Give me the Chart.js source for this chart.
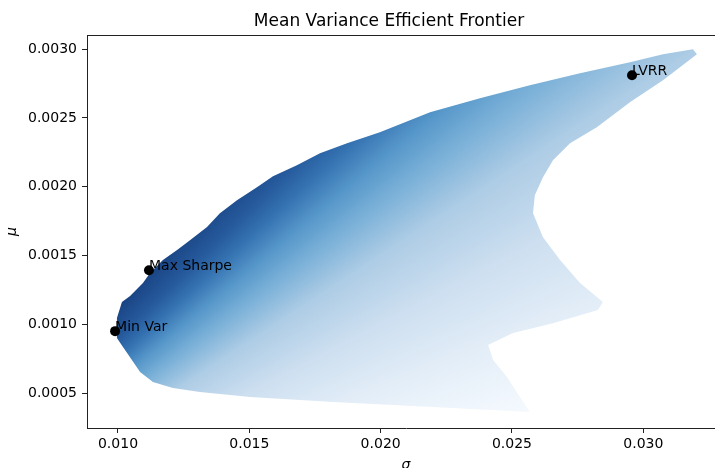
<!DOCTYPE html>
<html>
<head>
<meta charset="utf-8">
<script src="https://cdn.jsdelivr.net/npm/chart.js@4.4.0/dist/chart.umd.min.js"></script>
<style>
  html, body { margin: 0; padding: 0; overflow: hidden; background: #fff; }
  #holder { width: 715px; height: 468px; overflow: hidden; }
</style>
</head>
<body>
<div id="holder"><canvas id="frontier" width="730" height="468"></canvas></div>
<script>
// outline of the simulated portfolio cloud (clockwise from min var)
const cloudSigma = [0.00996, 0.00996, 0.01015, 0.01046, 0.01095, 0.01122, 0.01171, 0.01225, 0.01274, 0.01339,
  0.01388, 0.01453, 0.01529, 0.01590, 0.01681, 0.01769, 0.01872, 0.01997, 0.02188, 0.02378,
  0.02568, 0.02759, 0.02949, 0.03075, 0.03189, 0.03204, 0.03075, 0.02949, 0.02823, 0.02721,
  0.02656, 0.02618, 0.02587, 0.02580, 0.02618, 0.02683, 0.02759, 0.02846, 0.02827, 0.02656,
  0.02504, 0.02409, 0.02428, 0.02481, 0.02530, 0.02568, 0.02199, 0.01819, 0.01503, 0.01312,
  0.01209, 0.01133, 0.01084, 0.01053, 0.01019];
const cloudMu = [0.000901, 0.001046, 0.001162, 0.001206, 0.001300, 0.001373, 0.001467, 0.001540, 0.001612, 0.001707,
  0.001808, 0.001903, 0.001997, 0.002077, 0.002157, 0.002244, 0.002317, 0.002396, 0.002542, 0.002643,
  0.002738, 0.002825, 0.002905, 0.002963, 0.002999, 0.002963, 0.002774, 0.002614, 0.002433, 0.002317,
  0.002193, 0.002070, 0.001939, 0.001808, 0.001634, 0.001467, 0.001300, 0.001162, 0.001104, 0.001009,
  0.000937, 0.000850, 0.000741, 0.000617, 0.000472, 0.000363, 0.000399, 0.000436, 0.000472, 0.000508,
  0.000537, 0.000581, 0.000654, 0.000741, 0.000835];

// highlighted portfolios
const markerNames = ['Max Sharpe', 'Min Var', 'LVRR'];
const markerSigma = [0.01118, 0.00989, 0.02957];
const markerMu = [0.001394, 0.000951, 0.002810];

const xTickValues = [0.010, 0.015, 0.020, 0.025, 0.030];
const yTickValues = [0.0005, 0.0010, 0.0015, 0.0020, 0.0025, 0.0030];

// colour shading: rays of equal return/risk ratio, like the Blues colour map
const rayBase = -0.001;
const shadeStops = [
  [0.050, '#f7fbff'], [0.075, '#e4eef8'], [0.100, '#cddff0'], [0.125, '#adcce5'],
  [0.145, '#78afd7'], [0.160, '#5596c9'], [0.175, '#3573b2'], [0.190, '#25599c'],
  [0.210, '#1b4686'], [0.220, '#163c78']
];

const cloudPoints = cloudSigma.map((s, i) => ({ x: s, y: cloudMu[i] }));
cloudPoints.push(cloudPoints[0]);
const markerPoints = markerSigma.map((s, i) => ({ x: s, y: markerMu[i] }));

function cloudFill(context) {
  const chart = context.chart;
  const { ctx, chartArea, scales } = chart;
  if (!chartArea) return '#9ecae1';
  const cx = scales.x.getPixelForValue(0);
  const cy = scales.y.getPixelForValue(rayBase);
  const start = -Math.PI / 2;
  const g = ctx.createConicGradient(start, cx, cy);
  shadeStops.forEach(([r, col]) => {
    const px = scales.x.getPixelForValue(0.03);
    const py = scales.y.getPixelForValue(rayBase + r * 0.03);
    let a = Math.atan2(py - cy, px - cx) - start;
    while (a < 0) a += 2 * Math.PI;
    g.addColorStop(Math.min(1, a / (2 * Math.PI)), col);
  });
  return g;
}

const frameAndText = {
  id: 'frameAndText',
  afterDatasetsDraw(chart) {
    const { ctx, chartArea } = chart;
    ctx.save();
    // top spine (right one is off the page)
    ctx.strokeStyle = '#222';
    ctx.lineWidth = 1;
    ctx.beginPath();
    ctx.moveTo(chartArea.left, chartArea.top + 0.5);
    ctx.lineTo(chartArea.right, chartArea.top + 0.5);
    ctx.stroke();
    ctx.fillStyle = '#000';
    ctx.font = '14px "DejaVu Sans"';
    ctx.textAlign = 'left';
    ctx.textBaseline = 'alphabetic';
    const meta = chart.getDatasetMeta(1);
    meta.data.forEach((pt, i) => {
      ctx.fillText(markerNames[i], pt.x, pt.y);
    });
    ctx.font = '17px "DejaVu Sans"';
    ctx.textAlign = 'center';
    ctx.fillText('Mean Variance Efficient Frontier', 389, 26);
    ctx.restore();
  }
};

Chart.defaults.font.family = '"DejaVu Sans", sans-serif';
Chart.defaults.font.size = 14;
Chart.defaults.color = '#000';

new Chart(document.getElementById('frontier'), {
  type: 'scatter',
  data: {
    datasets: [{
      label: 'portfolios',
      data: cloudPoints,
      showLine: true,
      fill: 'shape',
      tension: 0,
      borderWidth: 0,
      borderColor: 'rgba(0,0,0,0)',
      backgroundColor: cloudFill,
      pointRadius: 0,
      order: 2
    }, {
      label: 'selected',
      data: markerPoints,
      showLine: false,
      pointRadius: 5,
      pointHoverRadius: 5,
      backgroundColor: '#000',
      borderColor: '#000',
      borderWidth: 0,
      order: 1
    }]
  },
  options: {
    responsive: false,
    animation: false,
    layout: { padding: { top: 35, right: 5, left: 0, bottom: 0 } },
    plugins: {
      legend: { display: false },
      tooltip: { enabled: false },
      title: { display: false }
    },
    scales: {
      x: {
        type: 'linear',
        min: 0.00882,
        max: 0.03311,
        afterBuildTicks: (scale) => { scale.ticks = xTickValues.map(v => ({ value: v })); },
        afterFit: (scale) => { scale.height = 40; },
        ticks: { padding: 3, callback: (v) => v.toFixed(3) },
        grid: { drawOnChartArea: false, drawTicks: true, tickLength: 5, color: '#222' },
        border: { display: true, color: '#222', width: 1 },
        title: { display: true, text: 'σ', font: { size: 14, style: 'italic' }, padding: { top: 0, bottom: -6 } }
      },
      y: {
        type: 'linear',
        min: 0.000247,
        max: 0.003103,
        afterBuildTicks: (scale) => { scale.ticks = yTickValues.map(v => ({ value: v })); },
        afterFit: (scale) => { scale.width = 87; },
        ticks: { padding: 5, callback: (v) => v.toFixed(4) },
        grid: { drawOnChartArea: false, drawTicks: true, tickLength: 5, color: '#222' },
        border: { display: true, color: '#222', width: 1 },
        title: { display: true, text: 'μ', font: { size: 14, style: 'italic' }, padding: { top: 4, bottom: 0 } }
      }
    }
  },
  plugins: [frameAndText]
});
</script>
</body>
</html>
